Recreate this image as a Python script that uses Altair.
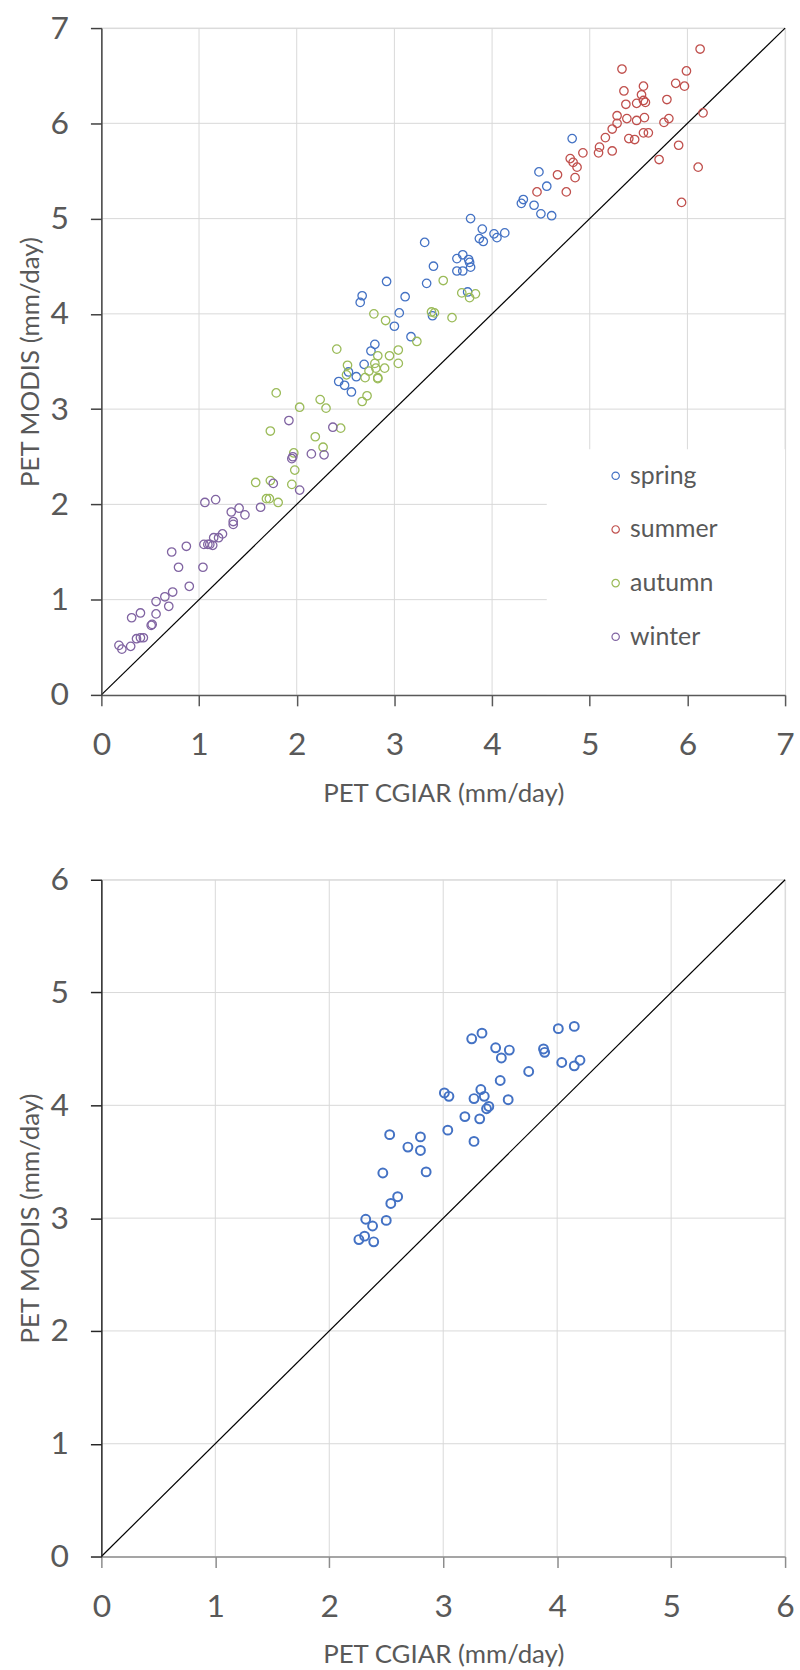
import altair as alt
import pandas as pd

FONT = "Lato"
TEXT = "#595959"

# ---------------- top chart data (PET CGIAR vs PET MODIS, by season) ----------------
spring_x = [2.43, 2.49, 2.56, 2.53, 2.61, 2.69, 2.76, 2.80, 2.65, 2.67, 2.92, 3.00, 3.05, 3.11,
            3.17, 3.33, 3.31, 3.39, 3.40, 3.64, 3.70, 3.76, 3.77, 3.78, 3.64, 3.70, 3.75, 3.78,
            3.90, 3.87, 3.91, 4.02, 4.05, 4.13, 4.30, 4.32, 4.43, 4.48, 4.50, 4.56, 4.61, 4.82]
spring_y = [3.29, 3.25, 3.18, 3.39, 3.34, 3.47, 3.61, 3.68, 4.12, 4.19, 4.34, 3.87, 4.01, 4.18,
            3.76, 4.32, 4.75, 3.98, 4.50, 4.58, 4.62, 4.57, 4.54, 4.49, 4.45, 4.45, 4.23, 5.00,
            4.89, 4.79, 4.76, 4.84, 4.80, 4.85, 5.16, 5.20, 5.14, 5.49, 5.05, 5.34, 5.03, 5.84]

summer_x = [6.13, 5.33, 5.99, 5.88, 5.97, 5.55, 5.35, 5.53, 5.55, 5.57, 5.48, 5.37, 5.79, 6.16,
            5.28, 5.38, 5.48, 5.56, 5.81, 5.76, 5.28, 5.23, 5.55, 5.60, 5.40, 5.46, 5.16, 5.10,
            5.09, 5.23, 4.93, 4.80, 4.83, 4.87, 4.67, 4.85, 4.46, 4.76, 5.91, 5.71, 6.11, 5.94]
summer_y = [6.78, 6.57, 6.55, 6.42, 6.39, 6.39, 6.34, 6.30, 6.24, 6.22, 6.21, 6.20, 6.25, 6.11,
            6.08, 6.05, 6.03, 6.06, 6.05, 6.01, 6.00, 5.94, 5.90, 5.90, 5.84, 5.83, 5.85, 5.75,
            5.69, 5.71, 5.69, 5.63, 5.59, 5.54, 5.46, 5.43, 5.28, 5.28, 5.77, 5.62, 5.54, 5.17]

autumn_x = [1.58, 1.69, 1.72, 1.73, 1.73, 1.79, 1.81, 1.95, 1.97, 1.98, 2.03, 2.19, 2.24, 2.27,
            2.30, 2.41, 2.45, 2.52, 2.51, 2.67, 2.72, 2.70, 2.74, 2.79, 2.80, 2.81, 2.83, 2.83,
            2.83, 2.90, 2.91, 2.95, 3.04, 3.04, 3.23, 3.38, 3.41, 3.50, 3.59, 3.69, 3.77, 3.83]
autumn_y = [2.23, 2.06, 2.06, 2.25, 2.77, 3.17, 2.02, 2.21, 2.54, 2.36, 3.02, 2.71, 3.10, 2.60,
            3.01, 3.63, 2.80, 3.46, 3.36, 3.08, 3.14, 3.33, 3.40, 4.00, 3.48, 3.43, 3.56, 3.33,
            3.32, 3.43, 3.93, 3.56, 3.62, 3.48, 3.71, 4.02, 4.01, 4.35, 3.96, 4.22, 4.17, 4.21]

winter_x = [0.18, 0.21, 0.30, 0.31, 0.40, 0.36, 0.40, 0.43, 0.51, 0.52, 0.56, 0.56, 0.65, 0.69,
            0.73, 0.72, 0.79, 0.87, 0.90, 1.04, 1.06, 1.17, 1.05, 1.09, 1.11, 1.14, 1.15, 1.20,
            1.24, 1.33, 1.41, 1.47, 1.35, 1.35, 1.63, 1.76, 2.03, 1.95, 1.96, 2.15, 2.28, 1.92, 2.37]
winter_y = [0.52, 0.48, 0.51, 0.81, 0.86, 0.59, 0.60, 0.60, 0.73, 0.74, 0.98, 0.85, 1.03, 0.93,
            1.08, 1.50, 1.34, 1.56, 1.14, 1.34, 2.02, 2.05, 1.58, 1.58, 1.58, 1.57, 1.65, 1.65,
            1.69, 1.92, 1.96, 1.89, 1.82, 1.79, 1.97, 2.22, 2.15, 2.48, 2.50, 2.53, 2.52, 2.88, 2.81]

seasons = ["spring", "summer", "autumn", "winter"]
season_colors = ["#4472C4", "#C0504D", "#9BBB59", "#8064A2"]

# ---------------- bottom chart data ----------------
bottom_x = [3.25, 3.34, 3.46, 3.58, 3.51, 3.88, 3.89, 4.01, 4.15, 4.04, 4.15, 4.20, 3.75, 3.50,
            3.01, 3.05, 3.33, 3.27, 3.36, 3.57, 3.40, 3.38, 3.19, 3.32, 3.04, 3.27, 2.53, 2.80,
            2.69, 2.80, 2.85, 2.47, 2.60, 2.54, 2.32, 2.50, 2.38, 2.31, 2.26, 2.39]
bottom_y = [4.59, 4.64, 4.51, 4.49, 4.42, 4.50, 4.47, 4.68, 4.70, 4.38, 4.35, 4.40, 4.30, 4.22,
            4.11, 4.08, 4.14, 4.06, 4.08, 4.05, 3.99, 3.97, 3.90, 3.88, 3.78, 3.68, 3.74, 3.72,
            3.63, 3.60, 3.41, 3.40, 3.19, 3.13, 2.99, 2.98, 2.93, 2.84, 2.81, 2.79]

# axis extents and ticks
top_ticks = [0, 1, 2, 3, 4, 5, 6, 7]
bottom_ticks = [0, 1, 2, 3, 4, 5, 6]

# legend background area of the top chart (data units)
legend_bg_x = [4.56, 7.0]
legend_bg_y = [0.0, 2.58]

X_TITLE = "PET CGIAR (mm/day)"
Y_TITLE = "PET MODIS (mm/day)"

W = 688
H1 = 671
H2 = 681

rows = []
for s, xs, ys in zip(seasons, [spring_x, summer_x, autumn_x, winter_x],
                     [spring_y, summer_y, autumn_y, winter_y]):
    for a, b in zip(xs, ys):
        rows.append({"cgiar": a, "modis": b, "season": s})
top_df = pd.DataFrame(rows)
bottom_df = pd.DataFrame({"cgiar": bottom_x, "modis": bottom_y})


def x_axis(ticks, color):
    return alt.Axis(values=ticks, grid=False, domainColor=color, domainWidth=1.5,
                    tickColor=color, tickWidth=1.5, tickSize=11, labelPadding=24,
                    labelFont=FONT, labelFontSize=32, labelColor=TEXT, labelFlush=False,
                    labelOverlap=False, title=X_TITLE, titleFont=FONT, titleFontSize=26,
                    titleFontWeight="normal", titleColor=TEXT, titleY=99,
                    titleBaseline="middle", zindex=2, format="d")


def y_axis(ticks, color, h):
    return alt.Axis(values=ticks, grid=False, domainColor=color, domainWidth=1.5,
                    tickColor=color, tickWidth=1.5, tickSize=11, labelPadding=22,
                    labelFont=FONT, labelFontSize=32, labelColor=TEXT, labelFlush=False,
                    labelOverlap=False, title=Y_TITLE, titleFont=FONT, titleFontSize=26,
                    titleFontWeight="normal", titleColor=TEXT, titleX=-71, titleY=h / 2,
                    titleAngle=270, titleAlign="center", titleBaseline="middle",
                    zindex=2, format="d")


def panel(ticks, h, points, xcolor, ycolor, with_legend_bg=False):
    dom = [ticks[0], ticks[-1]]
    xs = alt.Scale(domain=dom, nice=False, zero=True)
    ys = alt.Scale(domain=dom, nice=False, zero=True)
    xa = x_axis(ticks, xcolor)
    ya = y_axis(ticks, ycolor, h)
    grid = pd.DataFrame({"v": ticks[1:]})
    vgrid = alt.Chart(grid).mark_rule(color="#D9D9D9", strokeWidth=1).encode(
        x=alt.X("v:Q", scale=xs, axis=xa))
    hgrid = alt.Chart(grid).mark_rule(color="#D9D9D9", strokeWidth=1).encode(
        y=alt.Y("v:Q", scale=ys, axis=ya))
    layers = [vgrid, hgrid]
    if with_legend_bg:
        bg = pd.DataFrame({"x": [legend_bg_x[0]], "x2": [legend_bg_x[1]],
                           "y": [legend_bg_y[0]], "y2": [legend_bg_y[1]]})
        layers.append(alt.Chart(bg).mark_rect(color="white").encode(
            x=alt.X("x:Q", scale=xs, axis=xa), x2="x2:Q",
            y=alt.Y("y:Q", scale=ys, axis=ya), y2="y2:Q"))
    diag = pd.DataFrame({"d": dom})
    layers.append(alt.Chart(diag).mark_line(color="black", strokeWidth=1.2).encode(
        x=alt.X("d:Q", scale=xs, axis=xa), y=alt.Y("d:Q", scale=ys, axis=ya)))
    layers.append(points.encode(x=alt.X("cgiar:Q", scale=xs, axis=xa),
                                y=alt.Y("modis:Q", scale=ys, axis=ya)))
    return alt.layer(*layers).properties(width=W, height=h)


top_points = alt.Chart(top_df).mark_point(shape="circle", filled=False, size=72,
                                          strokeWidth=1.3, opacity=1).encode(
    color=alt.Color("season:N", scale=alt.Scale(domain=seasons, range=season_colors),
                    legend=alt.Legend(orient="none", legendX=505, legendY=438, title=None,
                                      symbolType="circle", symbolSize=55,
                                      symbolStrokeWidth=1.2, labelFont=FONT,
                                      labelFontSize=25, labelColor=TEXT, labelOffset=2,
                                      rowPadding=28, zindex=3)))
bottom_points = alt.Chart(bottom_df).mark_point(shape="circle", filled=False, size=80,
                                                strokeWidth=2, color="#4472C4", opacity=1)

top = panel(top_ticks, H1, top_points, "#595959", "#404040", with_legend_bg=True)
bottom = panel(bottom_ticks, H2, bottom_points, "#8C8C8C", "#262626")

chart = alt.vconcat(top, bottom, spacing=56).properties(
    padding={"left": 17, "top": 6, "right": 5, "bottom": 5}
).configure_view(stroke=None).configure(background="white")

chart.save("out.html", embed_options={"renderer": "svg", "actions": False})
